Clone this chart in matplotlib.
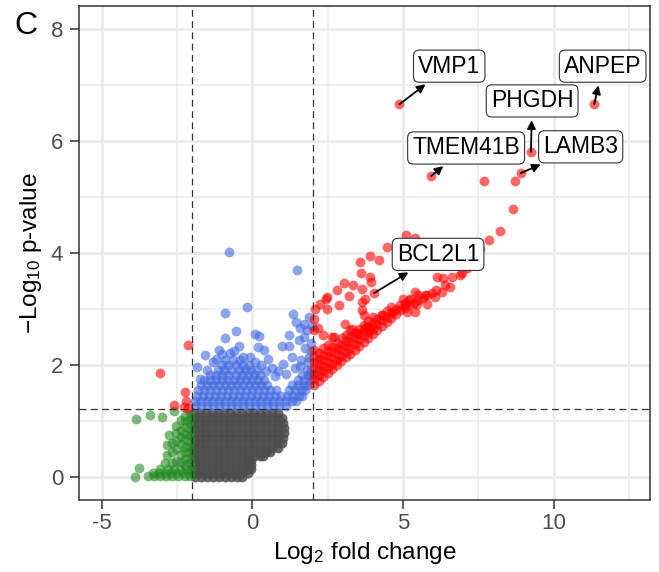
import matplotlib
matplotlib.use('Agg')
import matplotlib.pyplot as plt

plt.rcParams['font.family'] = ['Liberation Sans', 'DejaVu Sans']
plt.rcParams['mathtext.fontset'] = 'custom'
plt.rcParams['mathtext.rm'] = 'Liberation Sans'
plt.rcParams['mathtext.it'] = 'Liberation Sans:italic'
plt.rcParams['mathtext.default'] = 'regular'

# cutoffs (log2 FC and -log10 p)
fc_cut = 2
p_cut = 1.22

# not significant (grey) - read row by row off the dense blob
grey_rows = [
    (1.15, [-1.95, -1.75, -1.55, -1.35, -1.15, -0.95, -0.75, -0.55, -0.35, -0.15, 0.05, 0.25, 0.45, 0.65, 0.85]),
    (1.06, [-1.95, -1.75, -1.55, -1.35, -1.15, -0.95, -0.75, -0.55, -0.35, -0.15, 0.05, 0.25, 0.45, 0.65, 0.85, 0.98]),
    (0.97, [-1.95, -1.75, -1.55, -1.35, -1.15, -0.95, -0.75, -0.55, -0.35, -0.15, 0.05, 0.25, 0.45, 0.65, 0.85, 1.02]),
    (0.88, [-1.95, -1.75, -1.55, -1.35, -1.15, -0.95, -0.75, -0.55, -0.35, -0.15, 0.05, 0.25, 0.45, 0.65, 0.85, 1.05]),
    (0.79, [-1.95, -1.75, -1.55, -1.35, -1.15, -0.95, -0.75, -0.55, -0.35, -0.15, 0.05, 0.25, 0.45, 0.65, 0.85, 1.05]),
    (0.70, [-1.95, -1.75, -1.55, -1.35, -1.15, -0.95, -0.75, -0.55, -0.35, -0.15, 0.05, 0.25, 0.45, 0.65, 0.85, 1.03]),
    (0.61, [-1.95, -1.75, -1.55, -1.35, -1.15, -0.95, -0.75, -0.55, -0.35, -0.15, 0.05, 0.25, 0.45, 0.65, 0.85, 1.0]),
    (0.52, [-1.95, -1.75, -1.55, -1.35, -1.15, -0.95, -0.75, -0.55, -0.35, -0.15, 0.05, 0.25, 0.45, 0.65, 0.85]),
    (0.45, [-1.95, -1.75, -1.55, -1.35, -1.15, -0.95, -0.75, -0.55, -0.35, -0.15, 0.05, 0.25, 0.45, 0.6]),
    (0.38, [-1.95, -1.75, -1.55, -1.35, -1.15, -0.95, -0.75, -0.55, -0.35, -0.15, 0.05, 0.25, 0.35]),
    (0.30, [-1.95, -1.75, -1.55, -1.35, -1.15, -0.95, -0.75, -0.55, -0.35, -0.15, -0.04]),
    (0.22, [-1.95, -1.75, -1.55, -1.35, -1.15, -0.95, -0.75, -0.55, -0.35, -0.15, -0.04]),
    (0.14, [-1.95, -1.75, -1.55, -1.35, -1.15, -0.95, -0.75, -0.55, -0.35, -0.15, -0.05]),
    (0.07, [-1.95, -1.75, -1.55, -1.35, -1.15, -0.95, -0.75, -0.55, -0.35, -0.15]),
    (0.00, [-1.9, -1.7, -1.5, -1.3, -1.1, -0.9, -0.7, -0.5, -0.35]),
]

# FC significant only (green)
green_x = [-3.45, -3.25, -3.05, -2.85, -2.65, -2.45, -2.25, -2.08,
           -3.3, -3.1, -2.9, -2.7, -2.5, -2.3, -2.1,
           -3.05, -2.8, -2.6, -2.4, -2.2, -2.05,
           -2.08, -2.08, -2.08, -2.08, -2.08, -2.08, -2.08, -2.08, -2.08, -2.08,
           -2.22, -2.22, -2.22, -2.22, -2.22, -2.22, -2.22, -2.22, -2.22,
           -2.38, -2.38, -2.38, -2.38, -2.38, -2.38,
           -2.52, -2.52, -2.52, -2.52, -2.52,
           -2.68, -2.68, -2.68,
           -3.85, -3.39, -3.0, -2.6, -2.78, -2.84, -2.84, -2.9, -3.77, -3.89]
green_y = [0.02, 0.02, 0.02, 0.02, 0.02, 0.02, 0.02, 0.02,
           0.08, 0.08, 0.08, 0.08, 0.08, 0.08, 0.08,
           0.15, 0.15, 0.15, 0.15, 0.15, 0.15,
           0.25, 0.35, 0.45, 0.55, 0.65, 0.75, 0.85, 0.95, 1.05, 1.13,
           0.22, 0.32, 0.45, 0.55, 0.68, 0.78, 0.9, 1.0, 1.1,
           0.28, 0.42, 0.6, 0.72, 0.85, 1.02,
           0.3, 0.5, 0.65, 0.8, 0.92,
           0.25, 0.45, 0.62,
           1.05, 1.11, 1.08, 1.18, 0.75, 0.57, 0.39, 0.25, 0.16, 0.0]

# p significant only (blue): dense rows + scattered points
blue_rows = [
    (1.28, [-1.9, -1.7, -1.5, -1.3, -1.1, -0.9, -0.7, -0.5, -0.3, -0.1, 0.1, 0.3, 0.5, 0.7, 0.9, 1.1]),
    (1.37, [-1.9, -1.7, -1.5, -1.3, -1.1, -0.9, -0.7, -0.5, -0.3, -0.1, 0.1, 0.3, 0.5, 0.7, 0.9, 1.1, 1.3, 1.45]),
    (1.46, [-1.85, -1.65, -1.45, -1.25, -1.05, -0.85, -0.65, -0.45, -0.25, -0.05, 0.15, 0.35, 0.55, 0.75, 0.95, 1.15, 1.35, 1.55, 1.65]),
    (1.55, [-1.8, -1.6, -1.4, -1.2, -1.0, -0.8, -0.6, -0.4, -0.2, 0.0, 0.2, 0.4, 0.6, 0.8, 1.2, 1.4, 1.6, 1.75]),
    (1.64, [-1.7, -1.5, -1.3, -1.1, -0.9, -0.7, -0.5, -0.3, -0.1, 0.1, 0.3, 0.5, 1.3, 1.5, 1.7, 1.85]),
    (1.73, [-1.6, -1.4, -1.2, -1.0, -0.8, -0.6, -0.4, -0.2, 0.0, 0.2, 0.4, 1.5, 1.7, 1.9]),
    (1.82, [-1.4, -1.2, -1.0, -0.8, -0.55, -0.35, -0.15, 0.05, 0.25, 1.65, 1.85, 1.95]),
    (1.91, [-1.15, -0.95, -0.7, -0.45, -0.25, -0.05, 0.15, 1.8, 1.95]),
    (2.00, [-1.0, -0.8, -0.55, -0.3, -0.1]),
    (2.09, [-0.9, -0.65, -0.4]),
]
blue_x = [-0.79, 1.47, -0.91, -0.17, -0.55, -0.91, 0.09, 0.22, 1.34, 1.45, 1.87, 1.7,
          1.2, 0.98, 1.23, 0.2, 0.37, -1.57, -1.84, -1.12, 1.87, 1.57, 0.53, -0.3,
          -0.08, -1.5, 1.03, 1.54, 1.7, 1.81, 1.97, 1.58, 1.75, 1.95, -1.0, -0.6,
          0.65, 0.85, 1.3, 1.95, -1.3, 0.1, -0.45, 0.45, 1.1, 1.4, -1.75,
          -1.2, -0.75, 0.3, 0.75, 1.6, 1.85]
blue_y = [4.02, 3.71, 2.93, 3.04, 2.61, 2.48, 2.55, 2.52, 2.91, 2.77, 2.86, 2.74,
          2.54, 2.34, 2.34, 2.33, 2.27, 2.18, 1.97, 2.27, 2.15, 1.98, 2.12, 2.15,
          2.14, 1.91, 2.03, 2.45, 2.5, 2.63, 2.71, 2.67, 2.3, 2.4, 2.2, 2.25,
          1.95, 1.9, 2.15, 2.25, 2.05, 2.05, 2.35, 1.9, 1.85, 1.95, 1.75,
          2.12, 2.22, 2.0, 1.8, 2.1, 2.05]

# both significant (red): dense band columns + scattered points
red_band = [
    (2.05, [1.65, 1.75, 1.85, 1.95, 2.05, 2.15, 2.27]),
    (2.2, [1.72, 1.82, 1.92, 2.02, 2.12, 2.22]),
    (2.35, [1.79, 1.89, 1.99, 2.09, 2.19, 2.3]),
    (2.5, [1.86, 1.96, 2.06, 2.16, 2.26, 2.36]),
    (2.65, [1.93, 2.03, 2.13, 2.23, 2.33]),
    (2.8, [2.0, 2.1, 2.2, 2.3, 2.4]),
    (2.95, [2.07, 2.17, 2.27, 2.37]),
    (3.1, [2.14, 2.24, 2.34, 2.44, 2.54]),
    (3.25, [2.21, 2.31, 2.41, 2.51]),
    (3.4, [2.28, 2.38, 2.48, 2.58]),
    (3.55, [2.35, 2.45, 2.55, 2.65]),
    (3.7, [2.42, 2.52, 2.62, 2.72]),
    (3.85, [2.49, 2.59, 2.69, 2.79]),
    (4.0, [2.56, 2.66, 2.76, 2.86]),
    (4.15, [2.63, 2.73, 2.83]),
    (4.3, [2.7, 2.8, 2.9]),
    (4.45, [2.77, 2.87, 2.97]),
    (4.6, [2.84, 2.94, 3.04]),
    (4.75, [2.91, 3.01]),
    (4.9, [2.98, 3.08]),
    (5.05, [3.02, 3.12]),
    (5.2, [3.07, 3.17]),
    (5.35, [3.11]),
    (5.5, [3.16, 3.26]),
    (5.65, [3.2]),
    (5.8, [3.25]),
    (5.95, [3.29]),
    (6.1, [3.34]),
]
red_x = [-2.15, -3.06, -2.23, -2.2, -2.59, -2.12, -2.28,
         7.69, 8.71, 8.66, 8.2, 7.85, 7.45, 7.2, 7.55,
         5.1, 5.4, 4.48, 3.9, 4.21, 3.57, 3.61, 3.93, 3.04, 3.35, 2.8, 3.19,
         3.74, 3.63, 3.63, 3.69, 2.86, 2.47, 2.25, 2.08, 2.03, 2.19, 2.03, 2.35,
         2.7, 2.96, 3.08, 3.24, 3.46, 3.74, 3.9, 3.9, 3.63,
         5.4, 5.73, 5.46, 5.01, 5.12, 5.4, 6.12, 5.79, 6.95, 7.11, 6.61, 6.33,
         6.28, 6.06, 6.89, 6.56, 6.39, 5.23, 5.07, 4.68, 4.29, 3.85, 3.3, 2.63,
         2.44, 2.49]
red_y = [2.37, 1.86, 1.52, 1.37, 1.29, 1.23, 1.25,
         5.29, 5.29, 4.79, 4.39, 4.24, 4.15, 4.18, 4.08,
         4.32, 4.28, 4.12, 3.95, 3.88, 3.84, 3.64, 3.49, 3.47, 3.43, 3.35, 3.23,
         3.19, 2.98, 3.13, 2.89, 3.07, 3.22, 3.1, 3.01, 2.83, 2.66, 2.63, 2.54,
         2.5, 2.48, 2.74, 2.63, 2.57, 2.66, 2.63, 3.58, 3.37,
         3.31, 3.25, 3.1, 3.19, 2.95, 2.95, 3.58, 3.1, 3.64, 3.73, 3.58, 3.55,
         3.31, 3.22, 3.61, 3.4, 3.43, 3.19, 3.07, 2.95, 2.89, 2.71, 2.64, 2.5,
         3.19, 3.01]

# labelled genes
gene_names = ['VMP1', 'ANPEP', 'PHGDH', 'LAMB3', 'TMEM41B', 'BCL2L1']
gene_x = [4.88, 11.34, 9.24, 8.9, 5.93, 4.04]
gene_y = [6.66, 6.66, 5.81, 5.43, 5.38, 3.29]
label_x = [6.53, 11.62, 9.28, 10.89, 7.09, 6.16]
label_y = [7.34, 7.34, 6.72, 5.90, 5.88, 3.98]

grey_x = [x for y, xs in grey_rows for x in xs]
grey_y = [y for y, xs in grey_rows for x in xs]
blue_x = blue_x + [x for y, xs in blue_rows for x in xs]
blue_y = blue_y + [y for y, xs in blue_rows for x in xs]
red_x = red_x + [x for x, ys in red_band for y in ys] + gene_x
red_y = red_y + [y for x, ys in red_band for y in ys] + gene_y

fig = plt.figure(figsize=(6.59, 5.72), dpi=100)
ax = fig.add_axes([79 / 659, 1 - 500 / 572, 571 / 659, 494.3 / 572])

s = 50
ax.scatter(grey_x, grey_y, s=s, c='#4D4D4D', alpha=0.85, linewidths=0, zorder=2)
ax.scatter(green_x, green_y, s=s, c='#228B22', alpha=0.6, linewidths=0, zorder=2)
ax.scatter(blue_x, blue_y, s=s, c='#4169E1', alpha=0.6, linewidths=0, zorder=2)
ax.scatter(red_x, red_y, s=s, c='#FF0000', alpha=0.6, linewidths=0, zorder=2)

for xv in (-fc_cut, fc_cut):
    ax.axvline(xv, color='#333333', lw=0.9, ls=(0, (5.5, 3.5)), zorder=3)
ax.axhline(p_cut, color='#333333', lw=0.9, ls=(0, (5.5, 3.5)), zorder=3)

for name, gx, gy, lx, ly in zip(gene_names, gene_x, gene_y, label_x, label_y):
    ax.annotate(name, xy=(gx, gy), xytext=(lx, ly), fontsize=16.5, ha='center', va='center',
                bbox=dict(boxstyle='round,pad=0.2,rounding_size=0.25', fc='white', ec='#333333', lw=0.8),
                arrowprops=dict(arrowstyle='<|-,head_length=0.3,head_width=0.15', color='black',
                                lw=1.3, shrinkA=2, shrinkB=0),
                zorder=5)

ax.set_xlim(-5.75, 13.19)
ax.set_ylim(-0.405, 8.42)
ax.set_xticks([-5, 0, 5, 10])
ax.set_xticklabels(['-5', '0', '5', '10'])
ax.set_yticks([0, 2, 4, 6, 8])
ax.set_xticks([-2.5, 2.5, 7.5, 12.5], minor=True)
ax.set_yticks([1, 3, 5, 7], minor=True)
ax.grid(which='major', color='#EBEBEB', lw=2.0, zorder=0)
ax.grid(which='minor', color='#EBEBEB', lw=1.1, zorder=0)
ax.set_axisbelow(True)
ax.tick_params(which='major', direction='out', length=6.5, width=1.1, color='#333333',
               labelcolor='#4D4D4D', labelsize=16, pad=3)
ax.tick_params(axis='y', pad=5)
ax.tick_params(which='minor', length=0)
for sp in ax.spines.values():
    sp.set_color('#333333')
    sp.set_linewidth(1.1)

ax.set_xlabel(r'$Log_2$ fold change', fontsize=17.5, labelpad=4)
ax.set_ylabel(r'$-Log_{10}$ p-value', fontsize=17.5, labelpad=5)

fig.text(25.5 / 659, 1 - 25.5 / 572, 'C', fontsize=23, ha='center', va='center')

fig.savefig('out.png', dpi=100)
